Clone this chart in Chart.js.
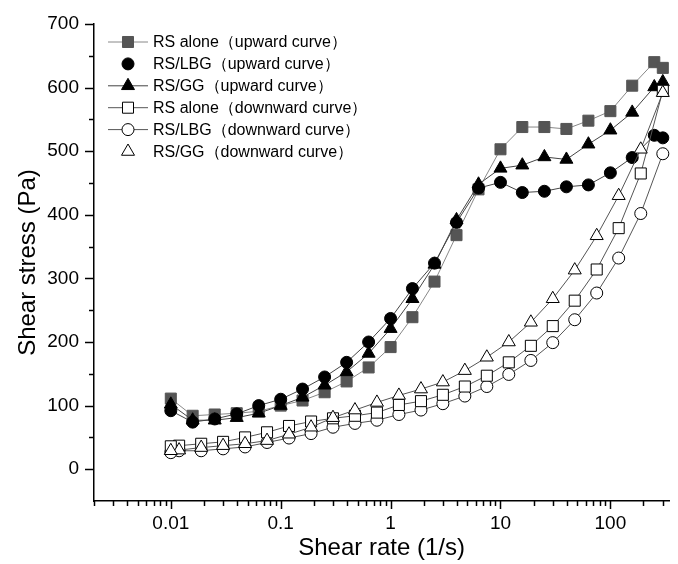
<!DOCTYPE html>
<html>
<head>
<meta charset="utf-8">
<script src="https://cdn.jsdelivr.net/npm/chart.js@4.4.0/dist/chart.umd.min.js"></script>
<style>
  html, body { margin: 0; padding: 0; background: #fff; }
</style>
</head>
<body>
<canvas id="myChart" width="678" height="564"></canvas>
<script>
// shear rates (1/s)
const upRate = [0.01, 0.0158, 0.0251, 0.0398, 0.0631, 0.1, 0.158, 0.251, 0.398, 0.631, 1, 1.58, 2.51, 3.98, 6.31, 10, 15.8, 25.1, 39.8, 63.1, 100, 158, 251, 300];
const downRate = [300, 189, 119, 75.1, 47.4, 29.9, 18.9, 11.9, 7.51, 4.74, 2.99, 1.89, 1.19, 0.751, 0.474, 0.299, 0.189, 0.119, 0.0751, 0.0474, 0.0299, 0.0189, 0.0119, 0.01];

// shear stress (Pa)
const rsUp = [111, 84, 86, 88, 91, 100, 108, 121, 138, 160, 192, 239, 295, 368, 440, 503, 538, 538, 535, 548, 563, 603, 640, 631];
const lbgUp = [92, 74, 79, 87, 100, 110, 126, 145, 168, 200, 237, 284, 324, 388, 442, 451, 435, 437, 444, 447, 466, 490, 525, 521];
const ggUp = [102, 77, 77, 81, 88, 100, 113, 132, 153, 182, 221, 268, 322, 392, 448, 473, 478, 491, 487, 511, 533, 561, 601, 609];
const rsDown = [595, 465, 379, 314, 265, 225, 194, 168, 147, 130, 117, 107, 101, 89, 84, 80, 75, 68, 58, 50, 43, 40, 37, 36];
const lbgDown = [496, 402, 332, 277, 235, 199, 171, 149, 130, 115, 103, 93, 86, 77, 72, 66, 56, 49, 42, 35, 32, 29, 29, 26];
const ggDown = [592, 503, 430, 367, 313, 268, 231, 200, 176, 155, 137, 126, 116, 105, 93, 81, 66, 55, 45, 40, 37, 34, 30, 29];

const seriesNames = [
  'RS alone（upward curve）',
  'RS/LBG（upward curve）',
  'RS/GG（upward curve）',
  'RS alone（downward curve）',
  'RS/LBG（downward curve）',
  'RS/GG（downward curve）'
];
const xTickLabels = ['0.01', '0.1', '1', '10', '100'];
const yTickLabels = ['0', '100', '200', '300', '400', '500', '600', '700'];

const FONT = '"Liberation Sans", Arial, sans-serif';
const legendLine = [true, false, true, true, true, false];

const pts = (xs, ys) => xs.map((x, i) => ({ x, y: ys[i] }));

// line-through-marker legend, like the origin plot
const legendPlugin = {
  id: 'markerLegend',
  afterDraw(chart) {
    const ctx = chart.ctx;
    ctx.save();
    ctx.font = '16px ' + FONT;
    ctx.textBaseline = 'middle';
    chart.data.datasets.forEach((ds, i) => {
      const y = 42 + i * 21.9;
      if (legendLine[i]) {
        ctx.strokeStyle = ds.borderColor;
        ctx.lineWidth = 1;
        ctx.beginPath();
        ctx.moveTo(108, y);
        ctx.lineTo(148, y);
        ctx.stroke();
      }
      ctx.fillStyle = ds.pointBackgroundColor;
      ctx.strokeStyle = ds.pointBorderColor;
      Chart.helpers.drawPoint(ctx, {
        pointStyle: ds.pointStyle, radius: ds.pointRadius, borderWidth: 1, rotation: 0
      }, 128, y);
      ctx.fillStyle = '#000';
      ctx.fillText(ds.label, 153, y + 1);
    });
    ctx.restore();
  }
};

// tick marks: long at labelled values, short in between
const tickPlugin = {
  id: 'axisTicks',
  afterDraw(chart) {
    const { ctx, chartArea, scales: { x, y } } = chart;
    ctx.save();
    ctx.strokeStyle = '#000';
    ctx.lineWidth = 1.5;
    x.ticks.forEach(t => {
      const px = Math.round(x.getPixelForValue(t.value)) + 0.5;
      const len = t.major ? 8 : 5;
      ctx.beginPath();
      ctx.moveTo(px, chartArea.bottom);
      ctx.lineTo(px, chartArea.bottom + len);
      ctx.stroke();
    });
    y.ticks.forEach(t => {
      if (t.value < 0) return;
      const py = Math.round(y.getPixelForValue(t.value)) + 0.5;
      const len = t.value % 100 === 0 ? 9 : 5;
      ctx.beginPath();
      ctx.moveTo(chartArea.left, py);
      ctx.lineTo(chartArea.left - len, py);
      ctx.stroke();
    });
    ctx.restore();
  }
};

const mk = (label, data, style, radius, fill, line, order) => ({
  label, data, order,
  showLine: true,
  borderColor: line,
  borderWidth: 1,
  pointStyle: style,
  pointRadius: radius,
  pointHoverRadius: radius,
  pointBackgroundColor: fill,
  pointBorderColor: fill === '#fff' ? '#000' : fill,
  pointBorderWidth: 1,
  clip: false
});

const ctx = document.getElementById('myChart').getContext('2d');
new Chart(ctx, {
  type: 'scatter',
  data: {
    datasets: [
      mk(seriesNames[0], pts(upRate, rsUp), 'rect', 7.8, '#555', '#888', 6),
      mk(seriesNames[1], pts(upRate, lbgUp), 'circle', 6, '#000', '#444', 4),
      mk(seriesNames[2], pts(upRate, ggUp), 'triangle', 7.5, '#000', '#444', 5),
      mk(seriesNames[3], pts(downRate, rsDown), 'rect', 7.8, '#fff', '#555', 2),
      mk(seriesNames[4], pts(downRate, lbgDown), 'circle', 6, '#fff', '#555', 3),
      mk(seriesNames[5], pts(downRate, ggDown), 'triangle', 7.5, '#fff', '#555', 1)
    ]
  },
  options: {
    responsive: false,
    animation: false,
    devicePixelRatio: 1,
    layout: { padding: { top: 24, right: 0, left: 0, bottom: 0 } },
    plugins: {
      legend: { display: false },
      tooltip: { enabled: false }
    },
    scales: {
      x: {
        type: 'logarithmic',
        min: 0.002,
        max: 343,
        afterBuildTicks: (scale) => {
          const ticks = [];
          for (let e = -3; e <= 2; e++) {
            for (let m = 1; m <= 9; m++) {
              const v = m * Math.pow(10, e);
              if (v >= scale.min && v <= scale.max) ticks.push({ value: v, major: m === 1 });
            }
          }
          scale.ticks = ticks;
        },
        afterFit: (scale) => { scale.height = 63; },
        grid: { display: true, drawOnChartArea: false, drawTicks: true, tickLength: 8, tickColor: 'transparent' },
        border: { display: true, color: '#000', width: 1.5 },
        ticks: {
          autoSkip: false,
          maxRotation: 0,
          padding: 3,
          color: '#000',
          font: { family: FONT, size: 19 },
          callback: (value) => xTickLabels.find(s => Math.abs(Number(s) / value - 1) < 1e-6) || ''
        },
        title: {
          display: true,
          text: 'Shear rate (1/s)',
          color: '#000',
          font: { family: FONT, size: 24 },
          padding: { top: 0, bottom: 1 }
        }
      },
      y: {
        type: 'linear',
        min: -50,
        max: 700,
        afterFit: (scale) => { scale.width = 94; },
        grid: { display: true, drawOnChartArea: false, drawTicks: true, tickLength: 9, tickColor: 'transparent' },
        border: { display: true, color: '#000', width: 1.5 },
        ticks: {
          stepSize: 50,
          autoSkip: false,
          padding: 6,
          color: '#000',
          font: { family: FONT, size: 19 },
          callback: (value) => yTickLabels.includes(String(value)) ? String(value) : ''
        },
        title: {
          display: true,
          text: 'Shear stress (Pa)',
          color: '#000',
          font: { family: FONT, size: 24 },
          padding: { top: 14, bottom: 0 }
        }
      }
    }
  },
  plugins: [tickPlugin, legendPlugin]
});
</script>
</body>
</html>
